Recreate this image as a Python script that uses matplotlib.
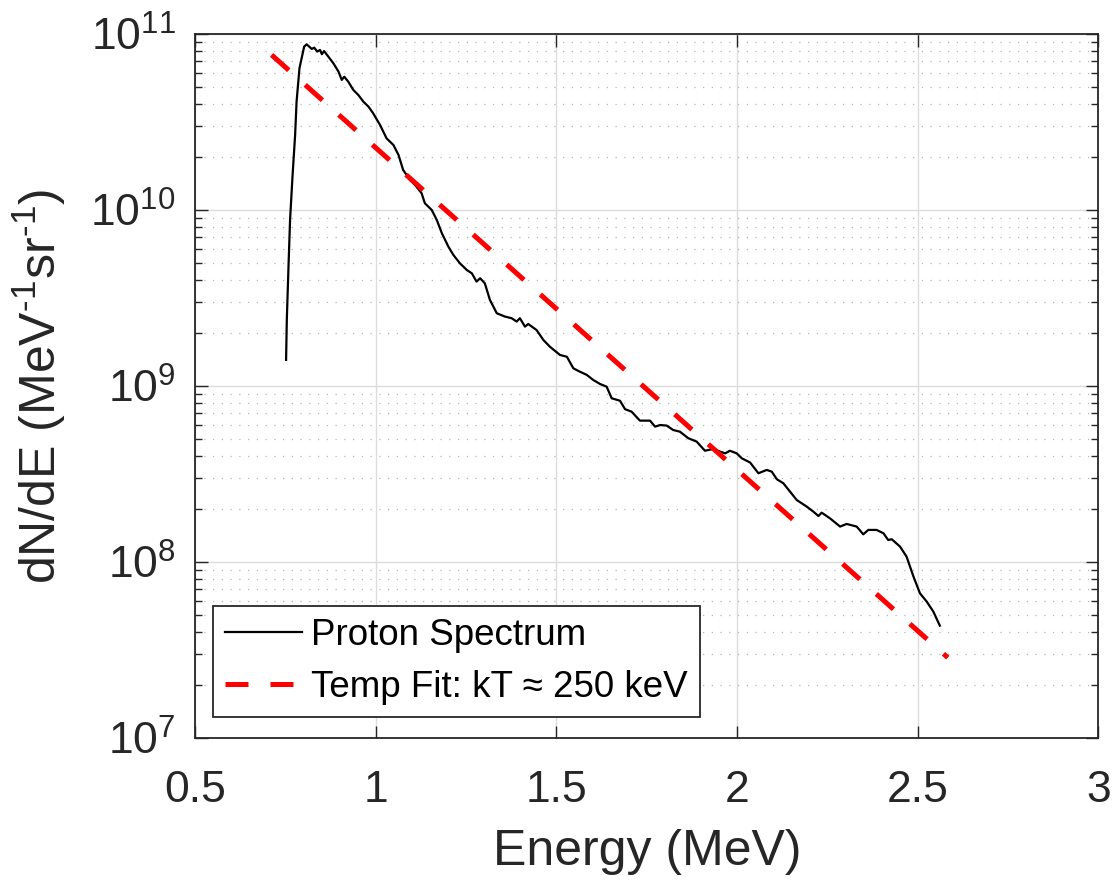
import numpy as np
import matplotlib
matplotlib.use("Agg")
import matplotlib.pyplot as plt
from matplotlib.ticker import LogLocator, FixedLocator, NullFormatter

# ---------------- data ----------------
spectrum_E = [
    0.752, 0.754, 0.759, 0.763, 0.770, 0.777, 0.781, 0.789, 0.795, 0.802,
    0.809, 0.816, 0.823, 0.830, 0.838, 0.846, 0.851, 0.857, 0.869, 0.883,
    0.897, 0.906, 0.913, 0.924, 0.938, 0.952, 0.966, 0.980, 0.993, 1.012,
    1.030, 1.049, 1.063, 1.076, 1.095, 1.109, 1.127, 1.136, 1.155, 1.169,
    1.183, 1.201, 1.215, 1.233, 1.252, 1.266, 1.279, 1.289, 1.302, 1.316,
    1.335, 1.358, 1.376, 1.390, 1.399, 1.413, 1.422, 1.445, 1.464, 1.482,
    1.510, 1.529, 1.547, 1.565, 1.584, 1.602, 1.621, 1.639, 1.653, 1.676,
    1.690, 1.708, 1.731, 1.759, 1.773, 1.787, 1.805, 1.823, 1.842, 1.865,
    1.888, 1.911, 1.934, 1.953, 1.967, 1.980, 1.999, 2.013, 2.036, 2.059,
    2.082, 2.096, 2.110, 2.128, 2.165, 2.193, 2.211, 2.225, 2.234, 2.257,
    2.285, 2.303, 2.331, 2.349, 2.363, 2.386, 2.405, 2.418, 2.428, 2.451,
    2.469, 2.488, 2.506, 2.525, 2.543, 2.561,
]
spectrum_log10_dNdE = [
    9.148, 9.375, 9.700, 9.943, 10.199, 10.426, 10.615, 10.805, 10.862, 10.928,
    10.941, 10.928, 10.915, 10.922, 10.900, 10.909, 10.885, 10.903, 10.871, 10.833,
    10.786, 10.739, 10.757, 10.729, 10.682, 10.653, 10.615, 10.587, 10.549, 10.483,
    10.407, 10.369, 10.313, 10.227, 10.170, 10.142, 10.095, 10.038, 10.000, 9.943,
    9.868, 9.792, 9.744, 9.697, 9.659, 9.640, 9.593, 9.612, 9.583, 9.489,
    9.413, 9.394, 9.385, 9.366, 9.385, 9.337, 9.352, 9.318, 9.261, 9.223,
    9.176, 9.166, 9.100, 9.081, 9.063, 9.034, 9.011, 8.996, 8.930, 8.916,
    8.868, 8.854, 8.803, 8.803, 8.769, 8.778, 8.775, 8.750, 8.740, 8.703,
    8.684, 8.632, 8.642, 8.627, 8.617, 8.632, 8.617, 8.589, 8.565, 8.504,
    8.523, 8.513, 8.470, 8.447, 8.352, 8.314, 8.286, 8.261, 8.280, 8.248,
    8.201, 8.216, 8.201, 8.157, 8.182, 8.182, 8.163, 8.125, 8.129, 8.087,
    8.030, 7.917, 7.822, 7.774, 7.718, 7.638,
]
fit_E = [0.712, 2.583]
fit_dNdE = [7.6e10, 2.86e7]

x_ticks = [0.5, 1, 1.5, 2, 2.5, 3]
x_ticklabels = ["0.5", "1", "1.5", "2", "2.5", "3"]
y_ticks = [1e7, 1e8, 1e9, 1e10, 1e11]
y_ticklabels = [r"$10^{7}$", r"$10^{8}$", r"$10^{9}$", r"$10^{10}$", r"$10^{11}$"]
legend_labels = ["Proton Spectrum", "Temp Fit: kT \u2248 250 keV"]

# ---------------- style ----------------
plt.rcParams["font.family"] = ["Liberation Sans", "DejaVu Sans"]
plt.rcParams["mathtext.fontset"] = "custom"
plt.rcParams["mathtext.rm"] = "Liberation Sans"
plt.rcParams["mathtext.it"] = "Liberation Sans:italic"
plt.rcParams["mathtext.bf"] = "Liberation Sans:bold"
plt.rcParams["mathtext.default"] = "regular"

axcol = "#262626"
fig = plt.figure(figsize=(11.15, 8.82), dpi=100)
ax = fig.add_axes([0.1749, 0.1633, 0.8103, 0.7982])

N = 10 ** np.array(spectrum_log10_dNdE)
ax.plot(spectrum_E, N, color="black", lw=1.6, label=legend_labels[0], zorder=3)
ax.plot(fit_E, fit_dNdE, color="#ff0000", lw=3.6, dashes=(4.6, 4.4),
        dash_capstyle="butt", label=legend_labels[1], zorder=3)

ax.set_yscale("log")
ax.set_xlim(0.5, 3)
ax.set_ylim(1e7, 1e11)

ax.xaxis.set_major_locator(FixedLocator(x_ticks))
ax.set_xticklabels(x_ticklabels)
ax.yaxis.set_major_locator(FixedLocator(y_ticks))
ax.set_yticklabels(y_ticklabels)
ax.yaxis.set_minor_locator(LogLocator(base=10, subs=np.arange(2, 10), numticks=20))
ax.yaxis.set_minor_formatter(NullFormatter())

ax.tick_params(which="both", direction="in", top=True, right=True, colors=axcol,
               width=1.0)
ax.tick_params(which="major", length=9, labelsize=32, pad=14)
ax.tick_params(which="minor", length=5)
ax.tick_params(axis="x", which="major", pad=23)

ax.grid(True, which="major", color="#dcdcdc", lw=1.0, zorder=0)
ax.grid(True, which="minor", axis="y", color="#b8b8b8", lw=0.9,
        linestyle=(0, (1, 6)), zorder=0)
ax.set_axisbelow(True)

for s in ax.spines.values():
    s.set_color(axcol)
    s.set_linewidth(1.3)

ax.set_xlabel("Energy (MeV)", fontsize=36, color=axcol, labelpad=13)
ax.set_ylabel(r"dN/dE (MeV$^{\text{-}1}$sr$^{\text{-}1}$)", fontsize=36,
              color=axcol, labelpad=16)

leg = ax.legend(loc="lower left", bbox_to_anchor=(0.0196, 0.030), borderaxespad=0,
                fontsize=26.5, handlelength=2.1, handletextpad=0.25,
                labelspacing=0.45, borderpad=0.33, fancybox=False, framealpha=1,
                edgecolor=axcol)
leg.get_frame().set_linewidth(1.3)

fig.savefig("out.png", dpi=100)
